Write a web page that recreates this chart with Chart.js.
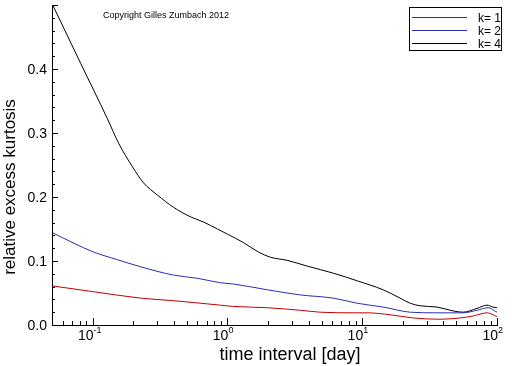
<!DOCTYPE html>
<html>
<head>
<meta charset="utf-8">
<script src="https://cdn.jsdelivr.net/npm/chart.js@4/dist/chart.umd.min.js"></script>
<style>
html,body{margin:0;padding:0;background:#fff;}
#wrap{width:512px;height:366px;position:relative;}
</style>
</head>
<body>
<div id="wrap"><canvas id="c" width="512" height="366"></canvas></div>
<script>
// ---- data ----
const seriesLabels = ['k= 1', 'k= 2', 'k= 4'];
const seriesColors = ['#c00000', '#2c2cb0', '#000000'];

const k1X = [0.0506, 0.1017, 0.227, 0.398, 0.887, 1.11, 1.98, 3.47, 4.89, 9.18, 10.9, 16.1, 23.9, 37.8, 53.2, 66.4, 84.4, 100];
const k1Y = [0.061, 0.052, 0.042, 0.038, 0.031, 0.029, 0.027, 0.023, 0.020, 0.019, 0.019, 0.016, 0.011, 0.009, 0.011, 0.014, 0.019, 0.013];

const k2X = [0.0506, 0.0723, 0.1017, 0.153, 0.227, 0.398, 0.6, 0.887, 1.11, 1.98, 3.47, 6.1, 9.18, 14.3, 22.7, 36, 56, 71, 85.8, 100];
const k2Y = [0.144, 0.128, 0.114, 0.102, 0.091, 0.078, 0.073, 0.066, 0.064, 0.055, 0.047, 0.042, 0.034, 0.028, 0.020, 0.019, 0.019, 0.023, 0.027, 0.020];

const k4X = [0.0506, 0.0815, 0.129, 0.156, 0.198, 0.239, 0.303, 0.398, 0.532, 0.664, 0.843, 1.0, 1.31, 1.70, 2.08, 2.78, 3.91, 6.1, 9.2, 14.3, 19.1, 22.7, 26.9, 36, 47.2, 56, 71.1, 84.4, 93.4, 100];
const k4Y = [0.50, 0.409, 0.322, 0.284, 0.247, 0.222, 0.203, 0.184, 0.169, 0.161, 0.150, 0.142, 0.129, 0.114, 0.106, 0.101, 0.092, 0.081, 0.069, 0.055, 0.042, 0.034, 0.030, 0.028, 0.022, 0.020, 0.026, 0.031, 0.028, 0.027];

const xDecadeExponents = [-1, 0, 1, 2];
const yTickLabels = ['0.0', '0.1', '0.2', '0.3', '0.4'];
const xTitle = 'time interval [day]';
const yTitle = 'relative excess kurtosis';
const copyright = 'Copyright Gilles Zumbach 2012';

const FONT = '"Liberation Sans", Arial, sans-serif';

function pts(xs, ys) { return xs.map((x, i) => ({x: x, y: ys[i]})); }

const decor = {
  id: 'decor',
  afterDraw(chart) {
    const ctx = chart.ctx;
    const xs = chart.scales.x, ys = chart.scales.y;
    const ca = chart.chartArea;
    ctx.save();
    ctx.strokeStyle = '#000';
    ctx.fillStyle = '#000';
    ctx.lineWidth = 1;
    // y ticks (inside)
    for (let i = 0; i <= 25; i++) {
      const v = i * 0.02;
      const py = Math.round(ys.getPixelForValue(v)) + 0.5;
      const major = (i % 5 === 0);
      const len = major ? 6 : 3;
      ctx.beginPath();
      ctx.moveTo(ca.left, py);
      ctx.lineTo(ca.left + len, py);
      ctx.stroke();
    }
    // y tick labels
    ctx.font = '14px ' + FONT;
    ctx.textAlign = 'right';
    ctx.textBaseline = 'middle';
    yTickLabels.forEach((t) => {
      const py = ys.getPixelForValue(parseFloat(t));
      ctx.fillText(t, ca.left - 5, py + 1);
    });
    // x ticks (inside)
    for (let e = -2; e <= 2; e++) {
      for (let m = 1; m <= 9; m++) {
        const v = m * Math.pow(10, e);
        if (v < xs.min - 1e-9 || v > xs.max + 1e-9) continue;
        const px = Math.round(xs.getPixelForValue(v)) + 0.5;
        const len = (m === 1) ? 7 : 4;
        ctx.beginPath();
        ctx.moveTo(px, ca.bottom);
        ctx.lineTo(px, ca.bottom - len);
        ctx.stroke();
      }
    }
    // x tick labels with superscripts
    xDecadeExponents.forEach((e) => {
      const px = xs.getPixelForValue(Math.pow(10, e));
      ctx.font = '14px ' + FONT;
      ctx.textAlign = 'right';
      ctx.textBaseline = 'alphabetic';
      ctx.fillText('10', px + 1, ca.bottom + 15);
      ctx.font = '9px ' + FONT;
      ctx.textAlign = 'left';
      ctx.fillText(e < 0 ? '-' + Math.abs(e) : String(e), px + 1, ca.bottom + 8);
    });
    // axis titles
    ctx.font = '18px ' + FONT;
    ctx.textAlign = 'center';
    ctx.textBaseline = 'alphabetic';
    ctx.fillText(xTitle, 290, 360);
    ctx.save();
    ctx.translate(10, 187);
    ctx.rotate(-Math.PI / 2);
    ctx.font = '17px ' + FONT;
    ctx.textBaseline = 'middle';
    ctx.fillText(yTitle, 0, 0);
    ctx.restore();
    // copyright
    ctx.font = '9px ' + FONT;
    ctx.textAlign = 'left';
    ctx.textBaseline = 'middle';
    ctx.fillText(copyright, 103, 16);
    // legend box
    ctx.strokeStyle = '#000';
    ctx.lineWidth = 1;
    ctx.strokeRect(409.5, 7.5, 92, 43);
    ctx.font = '12px ' + FONT;
    ctx.textAlign = 'left';
    ctx.textBaseline = 'middle';
    chart.data.datasets.forEach((ds, i) => {
      const y = 17.5 + i * 13;
      ctx.strokeStyle = ds.borderColor;
      ctx.beginPath();
      ctx.moveTo(412, y);
      ctx.lineTo(467, y);
      ctx.stroke();
      ctx.fillStyle = '#000';
      ctx.fillText(ds.label, 478, y + 1);
    });
    ctx.restore();
  }
};

new Chart(document.getElementById('c'), {
  type: 'line',
  data: {
    datasets: [
      {label: seriesLabels[0], data: pts(k1X, k1Y), borderColor: seriesColors[0]},
      {label: seriesLabels[1], data: pts(k2X, k2Y), borderColor: seriesColors[1]},
      {label: seriesLabels[2], data: pts(k4X, k4Y), borderColor: seriesColors[2]}
    ].map(d => Object.assign(d, {borderWidth: 1, pointRadius: 0, fill: false, cubicInterpolationMode: 'monotone'}))
  },
  options: {
    responsive: false,
    animation: false,
    events: [],
    layout: {padding: {left: 52, right: 15, top: 5, bottom: 41}},
    plugins: {legend: {display: false}, tooltip: {enabled: false}},
    scales: {
      x: {
        type: 'logarithmic', min: 0.05, max: 100,
        grid: {display: false, drawTicks: false, tickLength: 0},
        border: {display: true, color: '#000', width: 1},
        ticks: {display: false}
      },
      y: {
        type: 'linear', min: 0, max: 0.5,
        grid: {display: false, drawTicks: false, tickLength: 0},
        border: {display: true, color: '#000', width: 1},
        ticks: {display: false}
      }
    }
  },
  plugins: [decor]
});
</script>
</body>
</html>
